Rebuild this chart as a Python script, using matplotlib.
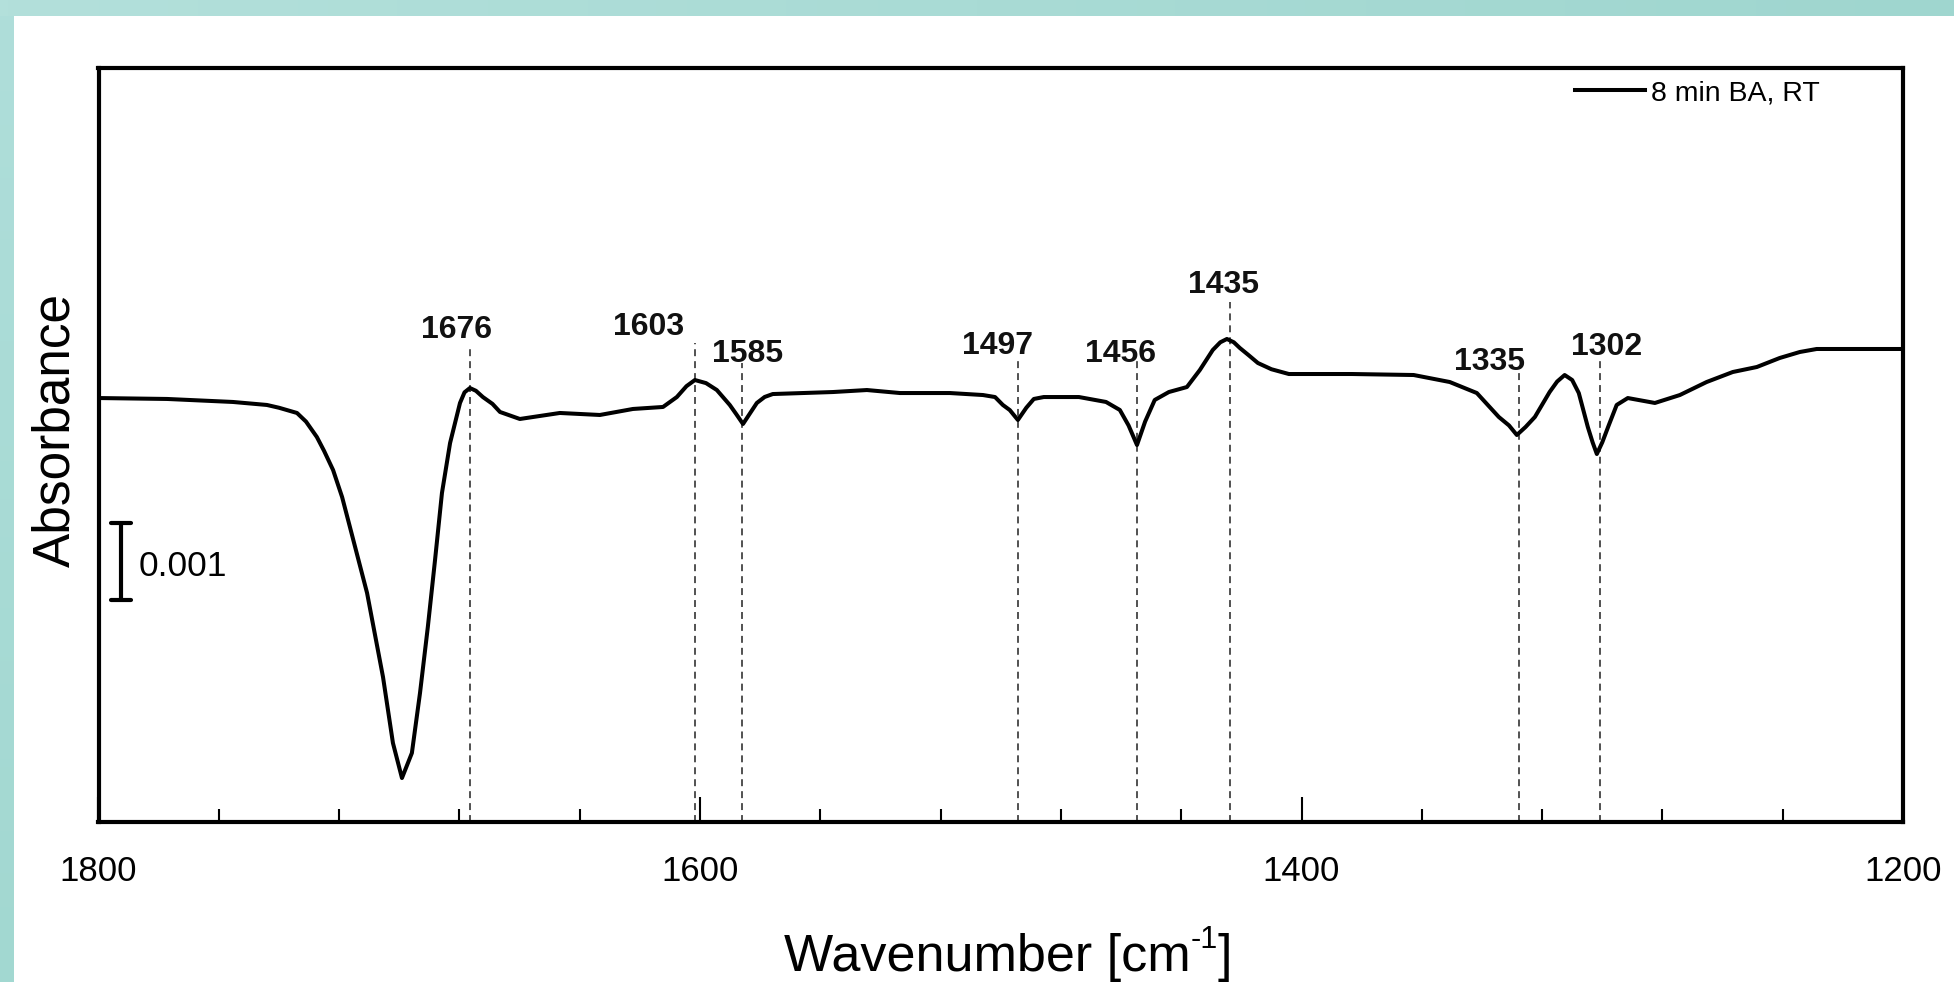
import numpy as np
import matplotlib
matplotlib.use("Agg")
import matplotlib.pyplot as plt
from matplotlib.ticker import MultipleLocator, FixedLocator
from matplotlib.colors import LinearSegmentedColormap
from matplotlib.lines import Line2D

# ---------------- data ----------------
wavenumber = [1800.0, 1777.2, 1755.3, 1744.0, 1740.0, 1734.0, 1731.0, 1727.4, 1725.0, 1722.0,
              1719.0, 1716.4, 1710.7, 1705.4, 1702.1, 1699.1, 1695.8, 1693.1, 1690.5, 1688.1,
              1685.8, 1683.1, 1679.8, 1678.3, 1676.5, 1674.5, 1672.2, 1669.0, 1666.5, 1659.9,
              1646.6, 1633.3, 1622.3, 1612.3, 1607.7, 1604.5, 1601.7, 1598.0, 1594.4, 1590.1,
              1588.0, 1585.7, 1583.5, 1581.1, 1578.5, 1575.8, 1555.8, 1544.5, 1533.5, 1516.9,
              1505.9, 1501.9, 1499.3, 1497.0, 1494.3, 1491.5, 1489.0, 1485.7, 1474.0, 1465.0,
              1460.4, 1457.5, 1454.7, 1452.0, 1448.8, 1444.1, 1438.1, 1433.8, 1429.5, 1427.0,
              1424.8, 1422.5, 1420.5, 1417.5, 1414.5, 1410.0, 1404.2, 1383.3, 1362.7, 1350.7,
              1341.7, 1334.4, 1331.0, 1328.4, 1325.5, 1322.4, 1317.5, 1315.0, 1312.5, 1310.0,
              1307.8, 1304.8, 1303.2, 1301.8, 1300.0, 1297.8, 1295.2, 1291.5, 1282.5, 1274.2,
              1265.3, 1256.6, 1248.6, 1241.0, 1234.3, 1228.7, 1214.4, 1200.0]
# absorbance in units of 0.001 (relative to the bottom of the frame)
absorbance_milli = [5.506, 5.494, 5.455, 5.416, 5.380, 5.312, 5.200, 5.000, 4.820, 4.571,
                    4.220, 3.831, 2.974, 1.883, 1.026, 0.571, 0.896, 1.675, 2.532, 3.403,
                    4.273, 4.922, 5.442, 5.580, 5.636, 5.600, 5.519, 5.430, 5.325, 5.234,
                    5.312, 5.286, 5.364, 5.390, 5.519, 5.660, 5.740, 5.700, 5.610, 5.416,
                    5.300, 5.169, 5.300, 5.442, 5.520, 5.558, 5.584, 5.610, 5.571, 5.571,
                    5.545, 5.519, 5.416, 5.350, 5.221, 5.380, 5.494, 5.519, 5.519, 5.455,
                    5.351, 5.150, 4.896, 5.200, 5.481, 5.584, 5.649, 5.870, 6.130, 6.230,
                    6.273, 6.230, 6.156, 6.060, 5.961, 5.880, 5.818, 5.818, 5.805, 5.714,
                    5.571, 5.260, 5.150, 5.026, 5.130, 5.260, 5.584, 5.720, 5.805, 5.740,
                    5.571, 5.130, 4.930, 4.779, 4.930, 5.156, 5.416, 5.506, 5.442, 5.545,
                    5.714, 5.844, 5.909, 6.026, 6.104, 6.143, 6.143, 6.143]

peak_labels = ["1676", "1603", "1585", "1497", "1456", "1435", "1335", "1302"]
peak_line_wn = [1676.5, 1601.8, 1586.1, 1494.2, 1454.6, 1423.9, 1327.8, 1300.8]

major_ticks = [1800, 1600, 1400, 1200]
tick_labels = ["1800", "1600", "1400", "1200"]
legend_label = "8 min BA, RT"
scale_label = "0.001"
scale_value = 1.0  # 0.001 absorbance in milli units

# ---------------- layout ----------------
label_x = [1680.8, 1617.0, 1584.1, 1501.0, 1460.1, 1425.8, 1337.4, 1298.5]
label_y = [6.39, 6.43, 6.08, 6.18, 6.08, 6.97, 5.97, 6.17]
line_top = [6.17, 6.22, 5.96, 6.04, 6.00, 6.75, 5.91, 6.00]

FONT = "Liberation Sans"
plt.rcParams["font.family"] = [FONT, "DejaVu Sans"]
plt.rcParams["lines.scale_dashes"] = False

W, H = 1954, 982
fig = plt.figure(figsize=(W / 100, H / 100), dpi=100)
fig.patch.set_facecolor("white")

# teal border strips
cmap_top = LinearSegmentedColormap.from_list("t", ["#b3e0db", "#9fd6cf"])
axt = fig.add_axes([0, 1 - 16 / H, 1, 16 / H])
axt.imshow(np.linspace(0, 1, 256)[None, :], aspect="auto", cmap=cmap_top, extent=[0, 1, 0, 1])
axt.set_axis_off()
cmap_left = LinearSegmentedColormap.from_list("l", ["#afdeda", "#a2d8d1"])
axl = fig.add_axes([0, 0, 14 / W, 1 - 16 / H])
axl.imshow(np.linspace(0, 1, 256)[:, None], aspect="auto", cmap=cmap_left, extent=[0, 1, 0, 1])
axl.set_axis_off()

x0, x1 = 98.5, 1903
y_top, y_bot = 68, 822
ax = fig.add_axes([x0 / W, (H - y_bot) / H, (x1 - x0) / W, (y_bot - y_top) / H])
ax.set_xlim(1800, 1200)
ax.set_ylim(0, (y_bot - y_top) / 77.0)

ax.plot(wavenumber, absorbance_milli, color="black", lw=2.9,
        solid_joinstyle="round", solid_capstyle="round", zorder=3, label=legend_label)

for lab, wn, lx, ly, lt in zip(peak_labels, peak_line_wn, label_x, label_y, line_top):
    ax.plot([wn, wn], [0, lt], color="#222222", lw=1.1, linestyle=(0, (5.0, 3.6)), zorder=2)
    ax.text(lx, ly, lab, ha="center", va="center", fontsize=23, fontweight="bold", color="#111111")

# scale bar
sb_x = 1792.5
sb_y0 = 2.883
ax.plot([sb_x, sb_x], [sb_y0, sb_y0 + scale_value], color="black", lw=3.0, solid_capstyle="butt")
for yy in (sb_y0, sb_y0 + scale_value):
    ax.plot([1795.8, 1789.2], [yy, yy], color="black", lw=3.0, solid_capstyle="round")
ax.text(1786.5, 3.312, scale_label, ha="left", va="center", fontsize=25.5)

# ticks
ax.xaxis.set_major_locator(FixedLocator(major_ticks))
ax.set_xticklabels(tick_labels)
ax.xaxis.set_minor_locator(MultipleLocator(40))
ax.tick_params(axis="x", which="major", direction="in", length=18, width=1.5,
               labelsize=25, pad=24, bottom=True, top=False)
ax.tick_params(axis="x", which="minor", direction="in", length=9.5, width=1.5,
               bottom=True, top=False)
ax.set_yticks([])
for sp in ax.spines.values():
    sp.set_linewidth(3.0)
    sp.set_color("black")

# legend
leg = ax.legend(handles=[Line2D([0], [0], color="black", lw=2.9)], labels=[legend_label],
                loc="center left", bbox_to_anchor=((1575 - x0) / (x1 - x0), (y_bot - 93) / (y_bot - y_top)),
                frameon=False, fontsize=20.5, handlelength=2.45, handletextpad=0.22,
                borderpad=0, borderaxespad=0)

# axis labels: "Wavenumber [cm" + raised "-1" + "]"
xl_y = (H - 957) / H
main = fig.text(0, xl_y, "Wavenumber [cm", ha="left", va="center", fontsize=37.5)
sup = fig.text(0, xl_y + 17 / H, "-1", ha="left", va="center", fontsize=22)
close = fig.text(0, xl_y, "]", ha="left", va="center", fontsize=37.5)
fig.canvas.draw()
r = fig.canvas.get_renderer()
w_main = main.get_window_extent(r).width
w_sup = sup.get_window_extent(r).width
w_close = close.get_window_extent(r).width
total = w_main + w_sup + w_close
start = 1008 - total / 2
main.set_x(start / W)
sup.set_x((start + w_main) / W)
close.set_x((start + w_main + w_sup) / W)

fig.text(56 / W, (H - 430) / H, "Absorbance", ha="center", va="center", rotation=90, fontsize=37)

fig.savefig("out.png", dpi=100, facecolor="white")
